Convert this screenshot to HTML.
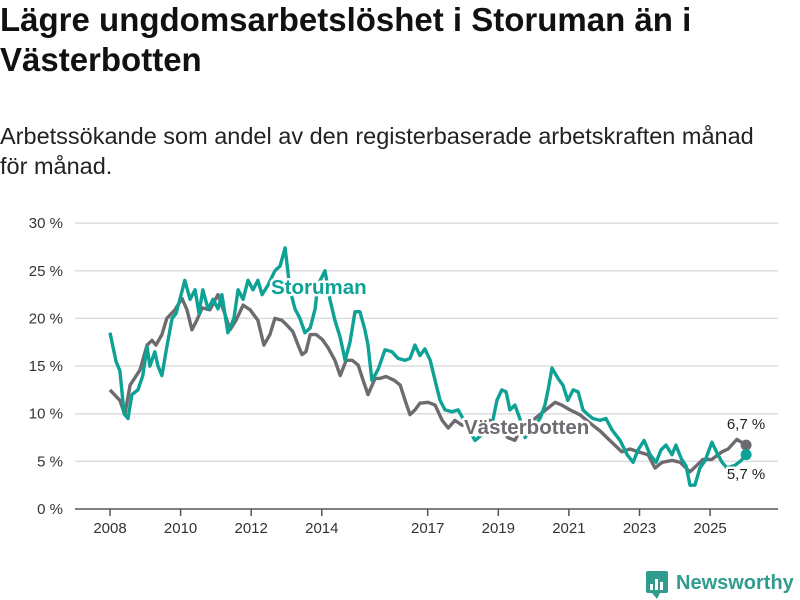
<!DOCTYPE html>
<html><head><meta charset="utf-8">
<style>
body{margin:0;width:800px;height:600px;background:#fff;font-family:"Liberation Sans",sans-serif;overflow:hidden;position:relative}
h1{position:absolute;left:0;top:0px;margin:0;font-size:33px;line-height:40px;font-weight:bold;color:#111;width:760px}
.sub{position:absolute;left:0;top:121px;margin:0;font-size:23.5px;line-height:30px;color:#222;width:775px}
svg{position:absolute;left:0;top:0}
</style></head>
<body>
<h1>Lägre ungdomsarbetslöshet i Storuman än i Västerbotten</h1>
<p class="sub">Arbetssökande som andel av den registerbaserade arbetskraften månad för månad.</p>
<svg id="c" width="800" height="600"></svg>
<script>
const yTicks=[0,5,10,15,20,25,30];
const xTicks=[2008,2010,2012,2014,2017,2019,2021,2023,2025];
const vbDates=[2008.00,2008.28,2008.42,2008.57,2008.85,2009.05,2009.19,2009.30,2009.47,2009.61,2009.84,2010.04,2010.18,2010.32,2010.46,2010.61,2010.83,2011.06,2011.26,2011.40,2011.57,2011.77,2011.97,2012.19,2012.36,2012.53,2012.67,2012.87,2013.01,2013.18,2013.33,2013.44,2013.55,2013.67,2013.84,2014.01,2014.18,2014.37,2014.52,2014.69,2014.86,2015.03,2015.17,2015.31,2015.51,2015.65,2015.82,2016.05,2016.22,2016.36,2016.50,2016.64,2016.78,2017.01,2017.21,2017.41,2017.58,2017.77,2017.97,2018.20,2018.48,2018.76,2019.05,2019.27,2019.47,2019.61,2020.04,2020.41,2020.61,2020.80,2021.03,2021.31,2021.60,2021.88,2022.16,2022.50,2022.73,2022.96,2023.24,2023.44,2023.64,2023.92,2024.15,2024.43,2024.63,2024.80,2025.05,2025.34,2025.51,2025.76,2026.02];
const vbValues=[12.5,11.4,9.9,13.0,14.6,17.2,17.7,17.2,18.3,20.0,20.9,22.1,20.9,18.8,19.8,21.1,20.9,22.5,20.4,18.8,19.8,21.4,20.9,19.8,17.2,18.3,20.0,19.8,19.3,18.6,17.2,16.2,16.5,18.3,18.3,17.8,16.9,15.6,14.0,15.6,15.6,15.1,13.5,12.0,13.7,13.7,13.9,13.5,13.0,11.4,9.9,10.4,11.1,11.2,10.9,9.3,8.5,9.3,8.8,8.8,9.3,9.3,8.5,7.5,7.2,8.2,9.5,10.6,11.2,10.9,10.4,9.9,9.0,8.2,7.2,6.0,6.3,6.0,5.7,4.3,4.9,5.1,4.9,3.9,4.6,5.2,5.2,6.0,6.3,7.3,6.7];
const stDates=[2008.00,2008.17,2008.28,2008.40,2008.51,2008.62,2008.79,2008.93,2009.05,2009.13,2009.27,2009.36,2009.47,2009.61,2009.76,2009.87,2009.98,2010.12,2010.27,2010.41,2010.52,2010.63,2010.78,2010.92,2011.06,2011.17,2011.34,2011.51,2011.63,2011.77,2011.91,2012.05,2012.19,2012.31,2012.48,2012.67,2012.82,2012.96,2013.10,2013.24,2013.38,2013.52,2013.67,2013.81,2013.89,2014.09,2014.23,2014.37,2014.52,2014.66,2014.80,2014.94,2015.08,2015.22,2015.31,2015.42,2015.59,2015.79,2015.99,2016.16,2016.36,2016.50,2016.64,2016.78,2016.92,2017.07,2017.24,2017.35,2017.49,2017.69,2017.86,2018.00,2018.34,2018.54,2018.82,2018.96,2019.10,2019.22,2019.33,2019.47,2019.61,2019.76,2020.18,2020.32,2020.41,2020.52,2020.69,2020.83,2020.97,2021.12,2021.26,2021.40,2021.54,2021.68,2021.88,2022.05,2022.22,2022.45,2022.65,2022.82,2022.96,2023.13,2023.30,2023.47,2023.61,2023.75,2023.92,2024.03,2024.18,2024.32,2024.43,2024.57,2024.71,2024.86,2025.05,2025.22,2025.34,2025.48,2025.71,2025.88,2026.02];
const stValues=[18.5,15.5,14.5,10.0,9.5,12.0,12.5,14.0,17.0,15.0,16.5,15.0,14.0,17.0,20.0,20.5,22.0,24.0,22.0,23.0,20.5,23.0,21.0,22.0,21.0,22.5,18.5,20.0,23.0,22.0,24.0,23.0,24.0,22.5,23.5,25.0,25.5,27.4,23.0,21.0,20.0,18.5,19.0,21.0,23.5,25.0,22.0,19.8,18.0,15.6,17.5,20.7,20.7,18.8,17.2,13.5,14.6,16.7,16.5,15.8,15.6,15.8,17.2,16.1,16.8,15.6,13.0,11.4,10.4,10.2,10.4,9.5,7.2,7.8,8.8,11.4,12.5,12.3,10.4,10.9,9.5,7.5,9.5,10.9,12.5,14.8,13.7,13.0,11.4,12.5,12.3,10.4,9.9,9.5,9.3,9.5,8.3,7.2,5.7,4.9,6.2,7.2,5.7,4.9,6.2,6.7,5.7,6.7,5.3,4.5,2.5,2.5,4.3,5.1,7.0,5.7,4.9,4.3,4.6,5.1,5.7];

const NS='http://www.w3.org/2000/svg';
const svg=document.getElementById('c');
const X=y=>110+(y-2008)*35.3;
const Y=v=>509-v*9.53;
function mk(t,a,p){const e=document.createElementNS(NS,t);for(const k in a)e.setAttribute(k,a[k]);(p||svg).appendChild(e);return e;}
yTicks.forEach(v=>{
  const g=mk('line',{x1:75,x2:778,y1:Y(v),y2:Y(v),stroke:v===0?'#555':'#ddd','stroke-width':1.5});
  
  
  const t=mk('text',{x:63,y:Y(v)+5,'text-anchor':'end','font-size':15,fill:'#333','font-family':'Liberation Sans'});
  t.textContent=v+' %';
  
  
});
xTicks.forEach(yr=>{
  const l=mk('line',{x1:X(yr),x2:X(yr),y1:509,y2:516,stroke:'#555','stroke-width':1.5});
  
  
  const t=mk('text',{x:X(yr),y:533,'text-anchor':'middle','font-size':15,fill:'#333','font-family':'Liberation Sans'});
  t.textContent=yr;
  
  
});
function line(d,v,col,name){
  const p=mk('path',{d:d.map((x,i)=>(i?'L':'M')+X(x).toFixed(1)+','+Y(v[i]).toFixed(1)).join(''),fill:'none',stroke:col,'stroke-width':3.4,'stroke-linejoin':'round'});
  
  
  const c=mk('circle',{cx:X(d[d.length-1]),cy:Y(v[v.length-1]),r:5.5,fill:col});
  
  
}
line(vbDates,vbValues,'#6d6b70','vasterbotten-line');
line(stDates,stValues,'#0ea195','storuman-line');
function lab(x,y,txt,col,sz,bold,name,anchor){
  const a={x:x,y:y,'font-size':sz,'font-weight':bold?'bold':'normal','font-family':'Liberation Sans',fill:col,'text-anchor':anchor||'start',stroke:'#fff','stroke-width':5,'paint-order':'stroke','stroke-linejoin':'round'};
  const t=mk('text',a);t.textContent=txt;
  
  
}
lab(271,294,'Storuman','#0ea195',20.5,true,'storuman-label');
lab(464,434,'Västerbotten','#6d6b70',20.5,true,'vasterbotten-label');
lab(746,429,'6,7 %','#222',15,false,'vasterbotten-end-value','middle');
lab(746,479,'5,7 %','#222',15,false,'storuman-end-value','middle');
const lg=mk('g',{});


mk('rect',{x:646,y:571,width:22,height:22,rx:2,fill:'#2f9c8e'},lg);
[[650,584,3,6],[655,579,3,11],[660,582,3,8]].forEach(r=>mk('rect',{x:r[0],y:r[1],width:r[2],height:r[3],fill:'#fff'},lg));
mk('path',{d:'M652 593 L657 599 L660 593Z',fill:'#2f9c8e'},lg);
const lt=mk('text',{x:676,y:589,'font-size':20,'font-weight':'bold','font-family':'Liberation Sans',fill:'#2f9c8e'},lg);
lt.textContent='Newsworthy';
</script>
</body></html>
